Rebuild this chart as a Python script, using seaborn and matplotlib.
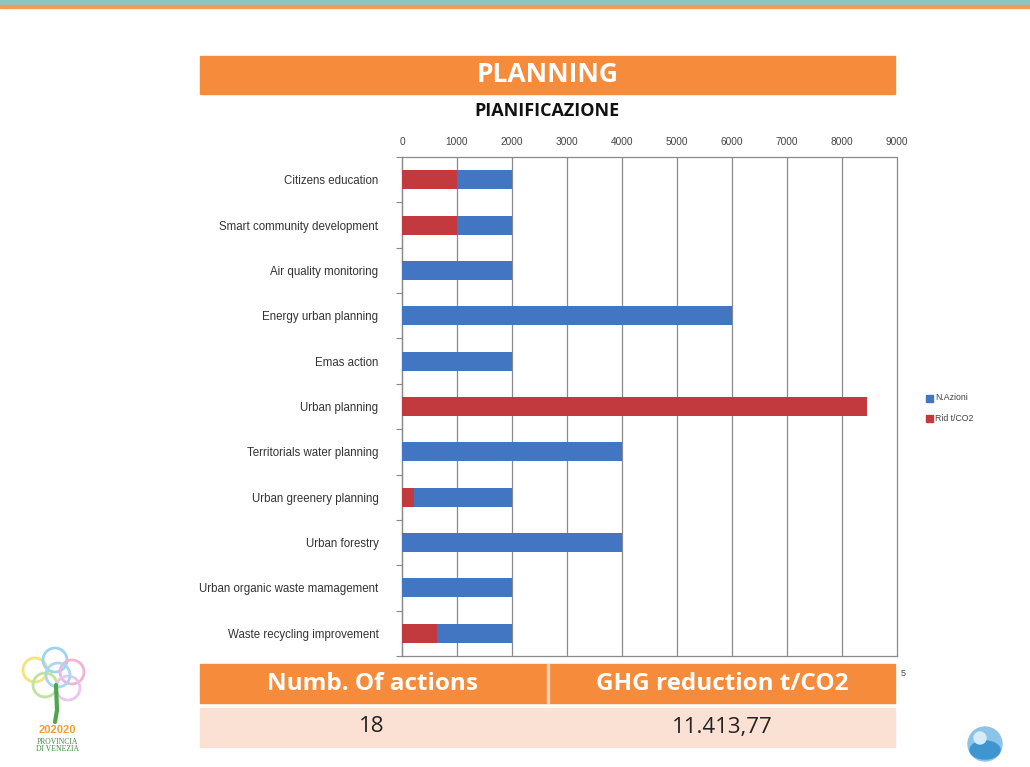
import numpy as np
import pandas as pd
import matplotlib
matplotlib.use("Agg")
import matplotlib.pyplot as plt
from matplotlib.patches import Rectangle, Circle, Ellipse
import seaborn as sns

# --- data -------------------------------------------------------------
categories = [
    "Citizens education",
    "Smart community development",
    "Air quality monitoring",
    "Energy urban planning",
    "Emas action",
    "Urban planning",
    "Territorials water planning",
    "Urban greenery planning",
    "Urban forestry",
    "Urban organic waste mamagement",
    "Waste recycling improvement",
]
n_azioni = [2000, 2000, 2000, 6000, 2000, 0, 4000, 2000, 4000, 2000, 2000]
rid_co2 = [1000, 1000, 0, 0, 0, 8450, 0, 220, 0, 0, 640]
x_ticks = [0, 1000, 2000, 3000, 4000, 5000, 6000, 7000, 8000, 9000]

series_names = ["N.Azioni", "Rid t/CO2"]
table_headers = ["Numb. Of actions", "GHG reduction t/CO2"]
table_values = ["18", "11.413,77"]

BLUE = "#4276c2"
RED = "#c2393e"
ORANGE = "#f68b3c"
PINK = "#fbe1d4"

df = pd.DataFrame({"categoria": categories, series_names[0]: n_azioni,
                   series_names[1]: rid_co2})

sns.set_theme(style="white")
plt.rcParams["font.family"] = ["Liberation Sans", "DejaVu Sans"]

W, H = 1030, 767
fig = plt.figure(figsize=(W / 100, H / 100), dpi=100)
fig.patch.set_facecolor("white")


def fx(px):
    return px / W


def fy(py):
    return 1 - py / H


# --- slide decorations -----------------------------------------------
fig.patches.append(Rectangle((0, fy(5)), 1, 5 / H, transform=fig.transFigure,
                             color="#8cc6c1", zorder=0))
fig.patches.append(Rectangle((0, fy(8)), 1, 3 / H, transform=fig.transFigure,
                             color="#f59a55", zorder=0))

# title banner
fig.patches.append(Rectangle((fx(200), fy(94)), fx(695), 38 / H,
                             transform=fig.transFigure, color=ORANGE, zorder=1))
fig.text(fx(548), fy(75), "PLANNING", color="white", fontsize=19,
         fontweight="bold", ha="center", va="center",
         family=["Open Sans", "DejaVu Sans"])
fig.text(fx(547), fy(111), "PIANIFICAZIONE", color="#111111", fontsize=13,
         fontweight="bold", ha="center", va="center",
         family=["Open Sans", "DejaVu Sans"])

# --- chart -------------------------------------------------------------
ax = fig.add_axes([fx(402), fy(656), fx(897 - 402), (656 - 157) / H])
sns.barplot(data=df, y="categoria", x=series_names[0], color=BLUE,
            width=0.42, orient="h", ax=ax, saturation=1, zorder=3,
            linewidth=0)
sns.barplot(data=df, y="categoria", x=series_names[1], color=RED,
            width=0.42, orient="h", ax=ax, saturation=1, zorder=4,
            linewidth=0)

ax.set_xlim(0, 9000)
ax.set_ylim(len(categories) - 0.5, -0.5)
ax.set_xticks(x_ticks)
ax.set_xticklabels([str(v) for v in x_ticks], fontsize=7.3, color="#444444")
ax.xaxis.tick_top()
ax.tick_params(axis="x", which="major", length=0, pad=7)
ax.set_xlabel("")
ax.set_ylabel("")
ax.tick_params(axis="y", which="major", length=0, pad=17, labelsize=8.3,
               labelcolor="#333333")
ax.set_yticks(np.arange(-0.5, len(categories), 1), minor=True)
ax.tick_params(axis="y", which="minor", length=4, color="#888888", width=0.8,
               left=True)
for v in x_ticks:
    ax.axvline(v, color="#8a8a8a", lw=0.9, zorder=1, clip_on=False)
for side in ["left", "top", "bottom"]:
    ax.spines[side].set_visible(True)
    ax.spines[side].set_color("#8a8a8a")
    ax.spines[side].set_linewidth(0.9)
ax.spines["right"].set_visible(False)
ax.set_facecolor("none")

# legend
for i, (name, col) in enumerate(zip(series_names, [BLUE, RED])):
    y = 398 + i * 20
    fig.patches.append(Rectangle((fx(926), fy(y + 3.5)), fx(7), 7 / H,
                                 transform=fig.transFigure, color=col))
    fig.text(fx(935), fy(y), name, fontsize=6.3, color="#444444",
             va="center", ha="left")

fig.text(fx(903), fy(673), "5", fontsize=6.5, color="#444444",
         va="center", ha="center")

# --- summary table -----------------------------------------------------
fig.patches.append(Rectangle((fx(200), fy(703)), fx(695), 39 / H,
                             transform=fig.transFigure, color=ORANGE, zorder=5))
fig.patches.append(Rectangle((fx(547), fy(703)), fx(2), 39 / H,
                             transform=fig.transFigure, color="#fbd2b5", zorder=6))
fig.patches.append(Rectangle((fx(200), fy(747)), fx(695), 39 / H,
                             transform=fig.transFigure, color=PINK, zorder=5))
for cx, head, val in zip([372, 722], table_headers, table_values):
    fig.text(fx(cx), fy(684), head, color="white", fontsize=17.5,
             fontweight="bold", ha="center", va="center", zorder=7,
             family=["Open Sans", "DejaVu Sans"])
    fig.text(fx(cx), fy(727), val, color="#222222", fontsize=16,
             ha="center", va="center", zorder=7,
             family=["Open Sans", "DejaVu Sans"])

# --- logos -----------------------------------------------------------
logo = fig.add_axes([0, 0, fx(130), 137 / H])
logo.set_xlim(0, 130)
logo.set_ylim(137, 0)
logo.axis("off")
blob_colors = ["#f5e27a", "#9fd3ee", "#f3b3d8", "#bfe3a0", "#e9c6f0", "#a8d8f0"]
blob_pos = [(35, 40), (55, 30), (72, 42), (45, 55), (68, 58), (58, 45)]
for (bx, by), bc in zip(blob_pos, blob_colors):
    logo.add_patch(Circle((bx, by), 12, facecolor="none", edgecolor=bc, lw=2))
logo.plot([56, 57, 55], [55, 80, 92], color="#4fa54a", lw=3)
logo.text(57, 100, "202020", color="#f0a030", fontsize=8, fontweight="bold",
          ha="center", va="center")
logo.text(57, 112, "PROVINCIA", color="#3d8b3d", fontsize=5.5,
          ha="center", va="center", family=["Liberation Serif", "DejaVu Serif"])
logo.text(57, 119, "DI VENEZIA", color="#3d8b3d", fontsize=5.5,
          ha="center", va="center", family=["Liberation Serif", "DejaVu Serif"])

badge = fig.add_axes([fx(960), 0, fx(50), 50 / H])
badge.set_xlim(0, 50)
badge.set_ylim(50, 0)
badge.set_aspect("equal")
badge.axis("off")
badge.add_patch(Circle((25, 27), 17, color="#8cc4e8"))
badge.add_patch(Ellipse((25, 33), 30, 18, color="#3f95cf"))
badge.add_patch(Circle((20, 21), 6, color="#d5ecf8"))

fig.savefig("out.png", dpi=100, facecolor="white")
